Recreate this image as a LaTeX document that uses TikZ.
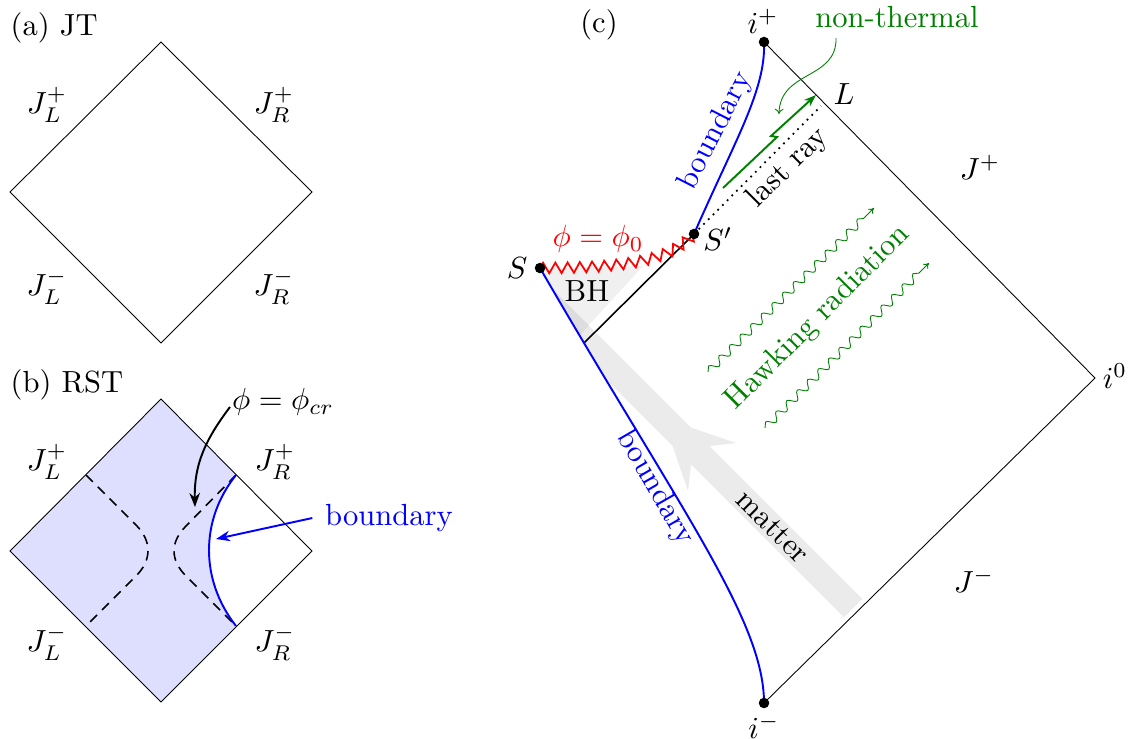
\documentclass[tikz,border=0pt]{standalone}
\usetikzlibrary{arrows.meta,decorations.pathmorphing}
\begin{document}
\begin{tikzpicture}[x=0.02cm,y=-0.02cm,
  every node/.style={font=\normalsize, scale=1.74, inner sep=0pt},
  edge/.style={line width=0.5pt},
  bnd/.style={blue, line width=1.1pt},
  dsh/.style={line width=0.9pt, dash pattern=on 5.5pt off 4pt},
  gcol/.style={color=green!50!black},
  wavy/.style={gcol, line width=0.5pt, decorate, decoration={snake, segment length=8.5pt, amplitude=2.2pt, post length=4pt}, -{To[length=3pt,width=4pt]}},
  band/.style={fill=black!8}
]
\useasboundingbox (0,0) rectangle (1131,738);

% ---------- panel (a)
\coordinate (aT) at (161,42); \coordinate (aL) at (10,192);
\coordinate (aR) at (312,192); \coordinate (aB) at (161,343);
\draw[edge] (aT) -- (aR) -- (aB) -- (aL) -- cycle;
\node[anchor=base west] (alab) at (10,35) {(a) JT};
\node (aJLp) at (47,105) {$J_L^+$};
\node (aJRp) at (274,105) {$J_R^+$};
\node (aJLm) at (47,287) {$J_L^-$};
\node (aJRm) at (274,287) {$J_R^-$};

% ---------- panel (b)
\coordinate (bT) at (161,399); \coordinate (bL) at (10,551);
\coordinate (bR) at (312,551); \coordinate (bB) at (161,702);
\coordinate (bU) at (236,475); \coordinate (bD) at (236,626);
\fill[blue!13] (bT) -- (bU) .. controls (200,520) and (200,580) .. (bD) -- (bB) -- (bL) -- cycle;
\draw[edge] (bT) -- (bR) -- (bB) -- (bL) -- cycle;
\draw[dsh] (86,475) -- (136,525) .. controls (152,541) and (152,560) .. (136,576) -- (86,626);
\draw[dsh] (bU) -- (186,526) .. controls (170,542) and (170,560) .. (186,576) -- (bD);
\draw[bnd] (bU) .. controls (200,520) and (200,580) .. (bD);
\node[anchor=base west] (blab) at (10,392) {(b) RST};
\node (bJLp) at (47,462) {$J_L^+$};
\node (bJRp) at (275,462) {$J_R^+$};
\node (bJLm) at (47,643) {$J_L^-$};
\node (bJRm) at (275,643) {$J_R^-$};
\node (phicr) at (283,402) {$\phi=\phi_{cr}$};
\coordinate (bArrS) at (230,407); \coordinate (bArrE) at (195,507);
\draw[line width=1.1pt, -{Stealth[length=8pt,width=6pt]}] (bArrS) .. controls (205,440) and (194,465) .. (bArrE);
\node[blue] (bbnd) at (389,518) {boundary};
\coordinate (bBndTip) at (216,539);
\draw[blue, line width=1.1pt, -{Stealth[length=8pt,width=6pt]}] ([xshift=-7pt]bbnd.west) -- (bBndTip);

% ---------- panel (c)
\coordinate (ip) at (764,42); \coordinate (im) at (764,703);
\coordinate (i0) at (1095,378);
\coordinate (S) at (540,268); \coordinate (Sp) at (694,234);
\coordinate (H) at (584,343); \coordinate (Lpt) at (821,106);

\begin{scope}
\clip (S) .. controls (680,510) and (764,620) .. (im) -- (i0) -- (ip) -- (Sp) .. controls (670,258) and (640,268) .. (S) -- cycle;
\fill[band] (843.8,617.2) -- (862.2,598.8) -- (544,280.6) -- (525.6,299) -- cycle;
\fill[band] (663,418) -- (736,443) -- (709.5,446.1) -- (691.1,464.5) -- (688,491) -- cycle;
\fill[black, opacity=0.06] (540,268) -- (643,266) -- (588,326) -- (578,338) -- cycle;
\end{scope}

\draw[edge] (ip) -- (i0) -- (im);
\draw[line width=0.9pt] (H) -- (Sp);
\draw[line width=1pt, dash pattern=on 1pt off 2.8pt] (Sp) -- (Lpt);
\draw[bnd] (S) .. controls (680,510) and (764,620) .. (im);
\draw[bnd] (Sp) .. controls (735,140) and (766,90) .. (ip);
\draw[red, line width=1pt, decorate, decoration={zigzag, segment length=7pt, amplitude=3pt}] (S) .. controls (640,268) and (670,258) .. (Sp);

\fill (S) circle (3pt);
\fill (Sp) circle (3pt);
\fill (ip) circle (3pt);
\fill (im) circle (3pt);

% non-thermal ray
\coordinate (g1) at (723,188); \coordinate (g2) at (777,137);
\coordinate (g3) at (771,136); \coordinate (gE) at (816,95);
\draw[gcol, line width=1.1pt, -{Stealth[length=7pt,width=5pt]}] (g1) -- (g2) -- (g3) -- (gE);
\node[gcol] (ntlab) at (897,17) {non-thermal};
\coordinate (ntS) at (836,38); \coordinate (ntE) at (779,114);
\draw[gcol, line width=0.5pt, -{To[length=3pt,width=5pt]}] (ntS) .. controls (837,80) and (780,70) .. (ntE);

% Hawking radiation
\coordinate (w1s) at (708,372); \coordinate (w1e) at (874,208);
\coordinate (w2s) at (765,428); \coordinate (w2e) at (929,263);
\draw[wavy] (w1s) -- (w1e);
\draw[wavy] (w2s) -- (w2e);
\node[gcol, rotate=45] (hawk) at (818,318) {Hawking radiation};

% labels
\node (clab) at (599,25) {(c)};
\node (lip) at (763,21) {$i^+$};
\node (lim) at (764,726) {$i^-$};
\node (li0) at (1115,376) {$i^0$};
\node (lS) at (517,268) {$S$};
\node (lSp) at (718,239) {$S'$};
\node (lL) at (844,94) {$L$};
\node (lJp) at (980,167) {$J^+$};
\node (lJm) at (974,580) {$J^-$};
\node (lBH) at (587,291) {BH};
\node[red] (lphi0) at (598,239) {$\phi=\phi_0$};
\node[blue, rotate=63] (lbu) at (716,131) {boundary};
\node[blue, rotate=-60] (lbl) at (655,488) {boundary};
\node[rotate=45] (lray) at (788,168) {last ray};
\node[rotate=-45] (lmat) at (773,527) {matter};
\end{tikzpicture}
\end{document}
